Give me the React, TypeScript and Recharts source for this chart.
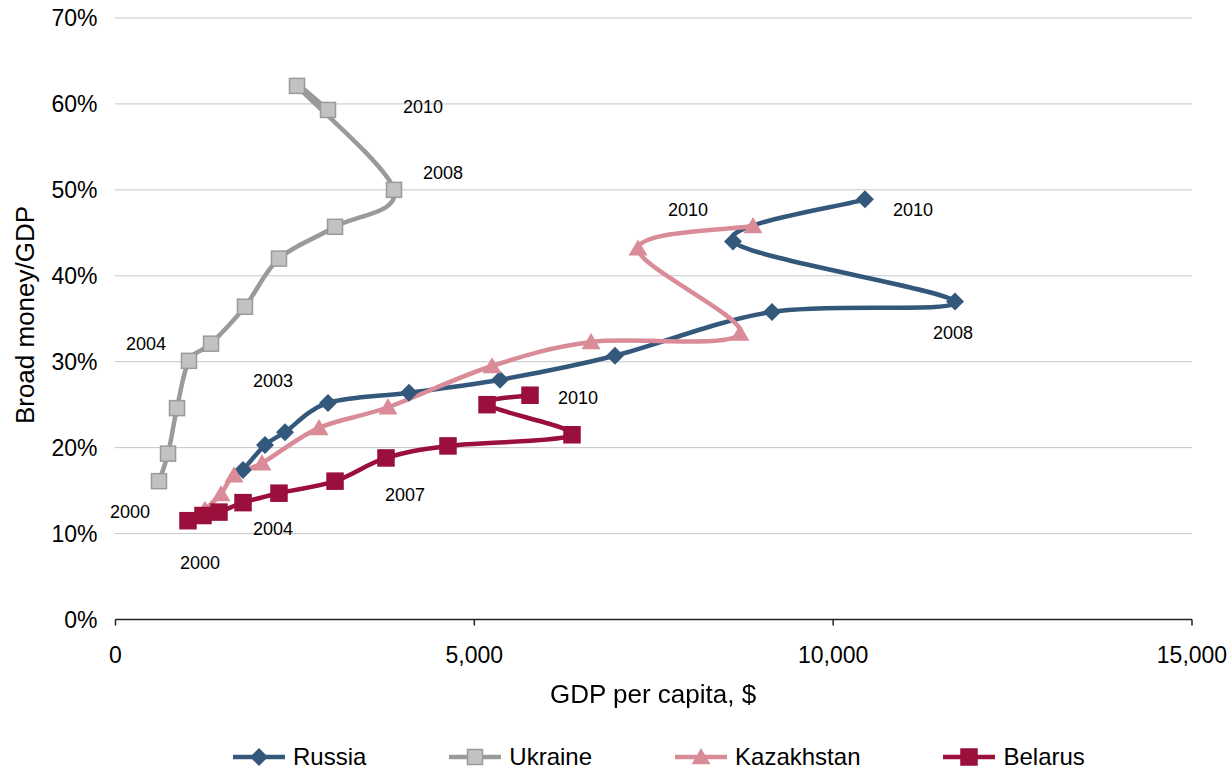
import React from "react";
import {
  LineChart,
  Line,
  XAxis,
  YAxis,
  CartesianGrid,
  Legend,
  ReferenceDot,
} from "recharts";

const FONT = "'Liberation Sans', Arial, sans-serif";

// GDP per capita ($) and broad money / GDP (%), 2000 to 2010
const years = [2000, 2001, 2002, 2003, 2004, 2005, 2006, 2007, 2008, 2009, 2010];

const russiaGdp = [1777, 2083, 2362, 2961, 4090, 5358, 6960, 9148, 11698, 8604, 10443];
const russiaMoney = [17.4, 20.3, 21.8, 25.2, 26.4, 27.9, 30.7, 35.8, 37.0, 44.0, 48.9];

const ukraineGdp = [606, 732, 857, 1024, 1331, 1804, 2278, 3059, 3881, 2529, 2961];
const ukraineMoney = [16.1, 19.3, 24.6, 30.1, 32.1, 36.4, 42.0, 45.7, 50.0, 62.1, 59.3];

const kazakhstanGdp = [1247, 1470, 1651, 2041, 2836, 3797, 5246, 6626, 8702, 7281, 8883];
const kazakhstanMoney = [12.8, 14.6, 16.8, 18.2, 22.3, 24.7, 29.5, 32.3, 33.3, 43.2, 45.8];

const belarusGdp = [1010, 1219, 1442, 1777, 2278, 3059, 3769, 4633, 6361, 5177, 5776];
const belarusMoney = [11.5, 12.1, 12.5, 13.6, 14.7, 16.1, 18.8, 20.2, 21.5, 25.0, 26.1];

const xTicks = [0, 5000, 10000, 15000];
const yTicks = [0, 10, 20, 30, 40, 50, 60, 70];

// year labels written next to the paths
const yearNotes = [
  { text: "2010", x: 4285, y: 59.7 },
  { text: "2008", x: 4563, y: 52.0 },
  { text: "2004", x: 425, y: 32.1 },
  { text: "2003", x: 2195, y: 27.8 },
  { text: "2000", x: 202, y: 12.5 },
  { text: "2004", x: 2195, y: 10.5 },
  { text: "2000", x: 1177, y: 6.6 },
  { text: "2007", x: 4034, y: 14.5 },
  { text: "2010", x: 6445, y: 25.8 },
  { text: "2010", x: 7977, y: 47.7 },
  { text: "2010", x: 11112, y: 47.7 },
  { text: "2008", x: 11669, y: 33.3 },
];

const toPoints = (gdp: number[], money: number[]) =>
  years.map((year, i) => ({ year, x: gdp[i], y: money[i] }));

type Marker = "diamond" | "square" | "triangle";

const series = [
  { name: "Russia", data: toPoints(russiaGdp, russiaMoney), color: "#33587C", fill: "#33587C", border: "#33587C", marker: "diamond" as Marker, size: 9 },
  { name: "Ukraine", data: toPoints(ukraineGdp, ukraineMoney), color: "#9A9A9A", fill: "#C2C2C2", border: "#9A9A9A", marker: "square" as Marker, size: 7.5 },
  { name: "Kazakhstan", data: toPoints(kazakhstanGdp, kazakhstanMoney), color: "#D98B98", fill: "#D98B98", border: "#D98B98", marker: "triangle" as Marker, size: 9.5 },
  { name: "Belarus", data: toPoints(belarusGdp, belarusMoney), color: "#9A0F3B", fill: "#9A0F3B", border: "#9A0F3B", marker: "square" as Marker, size: 8 },
];

// Excel-style smoothing: cubic bezier through every point, tangents from neighbours
const smoothCurve = (context: any) => {
  let pts: number[][] = [];
  return {
    areaStart() {},
    areaEnd() {},
    lineStart() {
      pts = [];
    },
    point(x: number, y: number) {
      pts.push([+x, +y]);
    },
    lineEnd() {
      const n = pts.length;
      if (!n) return;
      context.moveTo(pts[0][0], pts[0][1]);
      for (let i = 0; i < n - 1; i++) {
        const p0 = pts[i - 1] || pts[i];
        const p1 = pts[i];
        const p2 = pts[i + 1];
        const p3 = pts[i + 2] || p2;
        context.bezierCurveTo(
          p1[0] + (p2[0] - p0[0]) / 6,
          p1[1] + (p2[1] - p0[1]) / 6,
          p2[0] - (p3[0] - p1[0]) / 6,
          p2[1] - (p3[1] - p1[1]) / 6,
          p2[0],
          p2[1]
        );
      }
    },
  };
};

function MarkerShape({ cx, cy, marker, size, fill, border }: any) {
  if (marker === "diamond") {
    return (
      <path
        d={`M${cx},${cy - size}L${cx + size},${cy}L${cx},${cy + size}L${cx - size},${cy}Z`}
        fill={fill}
      />
    );
  }
  if (marker === "triangle") {
    const h = size * 1.7;
    return (
      <path
        d={`M${cx},${cy - h * 0.55}L${cx + size},${cy + h * 0.45}L${cx - size},${cy + h * 0.45}Z`}
        fill={fill}
      />
    );
  }
  return (
    <rect
      x={cx - size}
      y={cy - size}
      width={size * 2}
      height={size * 2}
      fill={fill}
      stroke={border}
      strokeWidth={1.5}
    />
  );
}

function LegendContent() {
  return (
    <div
      style={{
        display: "flex",
        justifyContent: "flex-start",
        gap: 83,
        fontFamily: FONT,
        fontSize: 24,
        color: "#000",
        paddingLeft: 233,
      }}
    >
      {series.map((s) => (
        <div key={s.name} style={{ display: "flex", alignItems: "center" }}>
          <svg width={52} height={24}>
            <line x1={0} x2={52} y1={12} y2={12} stroke={s.color} strokeWidth={4.5} />
            <MarkerShape cx={26} cy={12} marker={s.marker} size={s.size} fill={s.fill} border={s.border} />
          </svg>
          <span style={{ marginLeft: 8, lineHeight: "28px" }}>{s.name}</span>
        </div>
      ))}
    </div>
  );
}

export default function App() {
  return (
    <div
      style={{
        position: "fixed",
        left: 0,
        top: 0,
        width: 1231,
        height: 771,
        background: "#fff",
        fontFamily: FONT,
      }}
    >
      <LineChart
        width={1231}
        height={771}
        margin={{ top: 18, right: 39, bottom: 121.5, left: 15.5 }}
      >
        <CartesianGrid
          horizontal
          vertical={false}
          stroke="#8c8c8c"
          strokeDasharray="1 1"
        />
        <XAxis
          type="number"
          dataKey="x"
          domain={[0, 15000]}
          ticks={xTicks}
          allowDataOverflow
          height={30}
          tickSize={6}
          tickMargin={21}
          tickFormatter={(v: number) => v.toLocaleString("en-US")}
          axisLine={{ stroke: "#222", strokeWidth: 1.5 }}
          tickLine={{ stroke: "#222", strokeWidth: 1.5 }}
          tick={{ fill: "#000", fontSize: 23, fontFamily: FONT }}
        />
        <YAxis
          type="number"
          domain={[0, 70]}
          ticks={yTicks}
          width={100}
          axisLine={false}
          tickLine={false}
          tickSize={0}
          tickMargin={18}
          tickFormatter={(v: number) => `${v}%`}
          tick={{ fill: "#000", fontSize: 23, fontFamily: FONT }}
        />
        {series.map((s) => (
          <Line
            key={s.name}
            name={s.name}
            data={s.data}
            dataKey="y"
            type={smoothCurve as any}
            stroke={s.color}
            strokeWidth={4.5}
            isAnimationActive={false}
            activeDot={false}
            dot={(p: any) => (
              <MarkerShape
                key={`${s.name}-${p.index}`}
                cx={p.cx}
                cy={p.cy}
                marker={s.marker}
                size={s.size}
                fill={s.fill}
                border={s.border}
              />
            )}
          />
        ))}
        {yearNotes.map((n, i) => (
          <ReferenceDot
            key={i}
            x={n.x}
            y={n.y}
            r={0}
            shape={(p: any) => (
              <text
                x={p.cx}
                y={p.cy}
                textAnchor="middle"
                dominantBaseline="central"
                fontSize={18}
                fontFamily={FONT}
                fill="#000"
              >
                {n.text}
              </text>
            )}
          />
        ))}
        <Legend
          layout="horizontal"
          verticalAlign="middle"
          align="center"
          wrapperStyle={{ top: 743, left: 0, width: 1231 }}
          content={() => <LegendContent />}
        />
      </LineChart>
      <div
        style={{
          position: "absolute",
          left: 0,
          width: 1306,
          top: 681,
          textAlign: "center",
          fontSize: 26,
          lineHeight: "26px",
          color: "#000",
        }}
      >
        GDP per capita, $
      </div>
      <div
        style={{
          position: "absolute",
          left: 25,
          top: 315,
          transform: "translate(-50%, -50%) rotate(-90deg)",
          whiteSpace: "nowrap",
          fontSize: 26,
          lineHeight: "26px",
          color: "#000",
        }}
      >
        Broad money/GDP
      </div>
    </div>
  );
}
